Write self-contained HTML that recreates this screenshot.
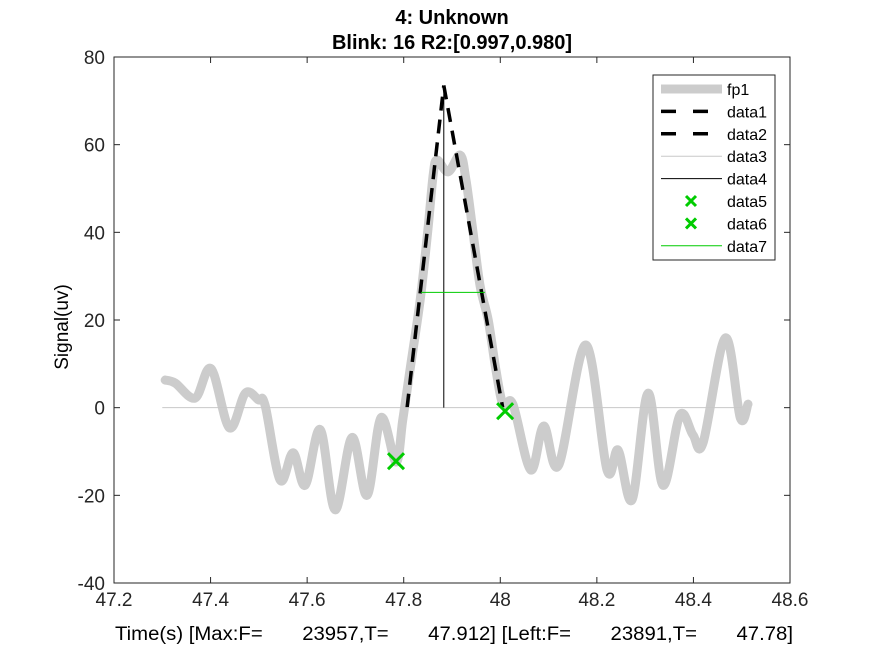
<!DOCTYPE html>
<html><head><meta charset="utf-8"><style>
body{margin:0;background:#fff}
svg{display:block;font-family:"Liberation Sans",sans-serif}
</style></head><body>
<svg id="chart" width="875" height="656" viewBox="0 0 875 656" xmlns="http://www.w3.org/2000/svg">
<rect width="875" height="656" fill="#fff"/>
<text x="452" y="24" text-anchor="middle" font-size="20" font-weight="bold">4: Unknown</text>
<text x="452" y="49" text-anchor="middle" font-size="20" font-weight="bold">Blink: 16 R2:[0.997,0.980]</text>
<g id="plot"></g>
<text x="115" y="640" font-size="19" textLength="678" lengthAdjust="spacingAndGlyphs" xml:space="preserve">Time(s) [Max:F=       23957,T=       47.912] [Left:F=       23891,T=       47.78]</text>
<text transform="translate(68,327) rotate(-90)" text-anchor="middle" font-size="19">Signal(uv)</text>
</svg>
<script>
const xTicks=[47.2,47.4,47.6,47.8,48,48.2,48.4,48.6];
const xTickLabels=["47.2","47.4","47.6","47.8","48","48.2","48.4","48.6"];
const yTicks=[-40,-20,0,20,40,60,80];
const yTickLabels=["-40","-20","0","20","40","60","80"];
const sigX=[47.306,47.327,47.368,47.401,47.439,47.472,47.499,47.513,47.544,47.571,47.596,47.627,47.658,47.693,47.724,47.753,47.784,47.798,47.813,47.834,47.850,47.861,47.869,47.892,47.917,47.929,47.943,47.958,47.975,47.991,48.006,48.026,48.063,48.090,48.121,48.177,48.221,48.244,48.273,48.306,48.337,48.372,48.399,48.420,48.466,48.497,48.513];
const sigY=[6.3,5.6,2.2,8.9,-4.6,3.3,1.8,0.5,-16.5,-10.3,-17.7,-5,-23.3,-6.8,-20,-2.3,-12.4,-2.8,8.6,24.5,40.5,53.1,56.5,53.8,57.6,51.9,40.5,27.9,20,8.6,0.6,0.8,-14.2,-4.2,-13.1,14.3,-14.2,-9.7,-21,3.3,-17.7,-1.7,-6.2,-8,15.9,-2.3,0.8];
const fitLX=[47.807,47.883];const fitLY=[0,73.5];
const fitRX=[47.883,48.005];const fitRY=[73.5,0];
const baseX=[47.3,48.5];const baseY=[0,0];
const peakX=[47.883,47.883];const peakY=[0,73.5];
const halfX=[47.836,47.968];const halfY=[26.3,26.3];
const m5=[47.784,-12.2];const m6=[48.010,-0.8];
const legendLabels=["fp1","data1","data2","data3","data4","data5","data6","data7"];

const L=114,R=790,T=57,B=583;
const xs=v=>L+(v-47.2)/(48.6-47.2)*(R-L);
const ys=v=>B-(v+40)/120*(B-T);
const NS="http://www.w3.org/2000/svg";
const g=document.getElementById('plot');
function mk(tag,attrs,parent){const e=document.createElementNS(NS,tag);for(const k in attrs)e.setAttribute(k,attrs[k]);(parent||g).appendChild(e);return e;}

const box=mk('rect',{x:L,y:T,width:R-L,height:B-T,fill:'#fff',stroke:'#262626','stroke-width':1});



xTicks.forEach((t,i)=>{const x=xs(t);
 const a=mk('line',{x1:x,x2:x,y1:B,y2:B-6,stroke:'#262626'});
 const b=mk('line',{x1:x,x2:x,y1:T,y2:T+6,stroke:'#262626'});
 const tx=mk('text',{x:x,y:B+23,'text-anchor':'middle','font-size':19,fill:'#262626'});tx.textContent=xTickLabels[i];
 });
yTicks.forEach((t,i)=>{const y=ys(t);
 const a=mk('line',{x1:L,x2:L+6,y1:y,y2:y,stroke:'#262626'});
 const b=mk('line',{x1:R,x2:R-6,y1:y,y2:y,stroke:'#262626'});
 const tx=mk('text',{x:L-9,y:y+7,'text-anchor':'end','font-size':19,fill:'#262626'});tx.textContent=yTickLabels[i];
 });

function smooth(X,Y){const P=X.map((x,i)=>[xs(x),ys(Y[i])]);let d='M'+P[0][0]+','+P[0][1];
 for(let i=0;i<P.length-1;i++){const p0=P[Math.max(0,i-1)],p1=P[i],p2=P[i+1],p3=P[Math.min(P.length-1,i+2)];
  const c1=[p1[0]+(p2[0]-p0[0])/6,p1[1]+(p2[1]-p0[1])/6],c2=[p2[0]-(p3[0]-p1[0])/6,p2[1]-(p3[1]-p1[1])/6];
  d+=` C${c1[0]},${c1[1]} ${c2[0]},${c2[1]} ${p2[0]},${p2[1]}`;}return d;}
function line(X,Y,attrs,name){const d='M'+X.map((x,i)=>xs(x)+','+ys(Y[i])).join(' L');const e=mk('path',Object.assign({d:d,fill:'none'},attrs));
 }

const sig=mk('path',{d:smooth(sigX,sigY),fill:'none',stroke:'#cccccc','stroke-width':9,'stroke-linejoin':'round','stroke-linecap':'round'});


line(fitLX,fitLY,{stroke:'#000','stroke-width':3.5,'stroke-dasharray':'14 9'},'data1-fit-left');
line(fitRX,fitRY,{stroke:'#000','stroke-width':3.5,'stroke-dasharray':'14 9'},'data2-fit-right');
line(baseX,baseY,{stroke:'#c8c8c8','stroke-width':1},'data3-baseline');
line(peakX,peakY,{stroke:'#000','stroke-width':1},'data4-peak-line');
line(halfX,halfY,{stroke:'#00cc00','stroke-width':1},'data7-half-width');
function cross(cx,cy,s,name,parent){const e=mk('path',{d:`M${cx-s},${cy-s}L${cx+s},${cy+s}M${cx-s},${cy+s}L${cx+s},${cy-s}`,stroke:'#00cc00','stroke-width':3},parent);
 }
cross(xs(m5[0]),ys(m5[1]),8,'data5-marker');
cross(xs(m6[0]),ys(m6[1]),8,'data6-marker');

const lg=mk('g',{});


mk('rect',{x:653,y:75,width:122,height:185,fill:'#fff',stroke:'#262626','stroke-width':1},lg);
const styles=[{stroke:'#cccccc','stroke-width':9},{stroke:'#000','stroke-width':3.5,'stroke-dasharray':'15 17'},{stroke:'#000','stroke-width':3.5,'stroke-dasharray':'15 17'},{stroke:'#c8c8c8','stroke-width':1},{stroke:'#000','stroke-width':1},null,null,{stroke:'#00cc00','stroke-width':1}];
legendLabels.forEach((lab,i)=>{const y=89+i*22.4;
 if(styles[i]){const e=mk('line',Object.assign({x1:661,x2:722,y1:y,y2:y},styles[i]),lg);}
 else cross(691,y,5,'legend-swatch',lg);
 const t=mk('text',{x:727,y:y+6,'font-size':16,fill:'#000'},lg);t.textContent=lab;
 });
</script>
</body></html>
